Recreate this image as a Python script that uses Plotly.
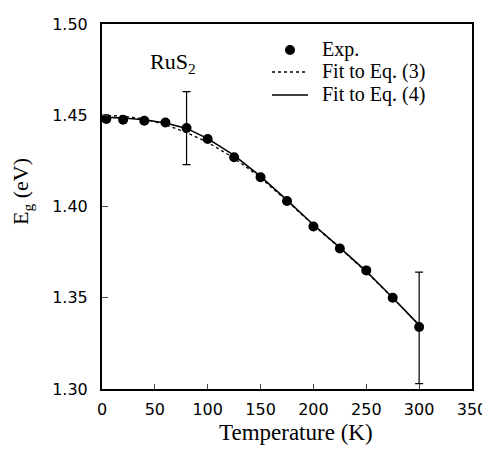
import plotly.graph_objects as go

# Experimental data
temp_exp = [4, 20, 40, 60, 80, 100, 125, 150, 175, 200, 225, 250, 275, 300]
eg_exp = [1.448, 1.4475, 1.447, 1.446, 1.443, 1.437, 1.427, 1.416, 1.403, 1.389, 1.377, 1.365, 1.350, 1.334]

# Error bars (only two points)
temp_err = [80, 300]
eg_err = [1.443, 1.334]
err_plus = [0.020, 0.030]
err_minus = [0.020, 0.031]

# Fits
temp_fit = [0, 20, 40, 60, 80, 100, 125, 150, 175, 200, 225, 250, 275, 300]
fit_eq3 = [1.450, 1.4495, 1.448, 1.4448, 1.4405, 1.4352, 1.4265, 1.4158, 1.4030, 1.3898, 1.3772, 1.3642, 1.3500, 1.3350]
fit_eq4 = [1.449, 1.4485, 1.4475, 1.4458, 1.4428, 1.4372, 1.4280, 1.4165, 1.4035, 1.3900, 1.3775, 1.3645, 1.3500, 1.3350]

x_ticks = [0, 50, 100, 150, 200, 250, 300, 350]
y_ticks = [1.30, 1.35, 1.40, 1.45, 1.50]

legend_labels = ["Exp.", "Fit to Eq. (3)", "Fit to Eq. (4)"]

serif = "Liberation Serif, Times New Roman, serif"
sans = "DejaVu Sans, sans-serif"

fig = go.Figure()

fig.add_trace(go.Scatter(
    x=temp_fit, y=fit_eq3, mode="lines", name=legend_labels[1], showlegend=False,
    line=dict(color="black", width=1.3, dash="dot"),
))
fig.add_trace(go.Scatter(
    x=temp_fit, y=fit_eq4, mode="lines", name=legend_labels[2], showlegend=False,
    line=dict(color="black", width=1.6),
))
fig.add_trace(go.Scatter(
    x=temp_err, y=eg_err, mode="markers", showlegend=False,
    marker=dict(color="black", size=1),
    error_y=dict(type="data", symmetric=False, array=err_plus, arrayminus=err_minus,
                 color="black", thickness=1.2, width=4),
))
fig.add_trace(go.Scatter(
    x=temp_exp, y=eg_exp, mode="markers", name=legend_labels[0], showlegend=False,
    marker=dict(color="black", size=10, symbol="circle"),
))

# Hand-drawn legend (paper coordinates)
leg_rows_y = [0.929, 0.8685, 0.8055]
leg_sample_x0, leg_sample_x1 = 0.4595, 0.5568
leg_text_x = 0.5892
fig.add_shape(type="circle", xref="paper", yref="paper", xsizemode="pixel", ysizemode="pixel",
              xanchor=(leg_sample_x0 + leg_sample_x1) / 2, yanchor=leg_rows_y[0],
              x0=-5, x1=5, y0=-5, y1=5, fillcolor="black", line=dict(color="black", width=0))
fig.add_shape(type="line", xref="paper", yref="paper", x0=leg_sample_x0, x1=leg_sample_x1,
              y0=leg_rows_y[1], y1=leg_rows_y[1], line=dict(color="black", width=1.3, dash="dot"))
fig.add_shape(type="line", xref="paper", yref="paper", x0=leg_sample_x0, x1=leg_sample_x1,
              y0=leg_rows_y[2], y1=leg_rows_y[2], line=dict(color="black", width=1.6))
for label, ly in zip(legend_labels, leg_rows_y):
    fig.add_annotation(x=leg_text_x, y=ly, xref="paper", yref="paper", text=label,
                       showarrow=False, xanchor="left", yanchor="middle",
                       font=dict(family=serif, size=20, color="black"))

fig.add_annotation(
    x=67, y=1.4786, xref="x", yref="y",
    text="RuS<sub>2</sub>", showarrow=False,
    font=dict(family=serif, size=22, color="black"),
)
fig.add_annotation(
    x=0.524, y=-0.118, xref="paper", yref="paper", xanchor="center", yanchor="middle",
    text="Temperature (K)", showarrow=False,
    font=dict(family=serif, size=23, color="black"),
)
fig.add_annotation(
    x=-0.216, y=0.54, xref="paper", yref="paper", xanchor="center", yanchor="middle",
    text="E<sub>g</sub> (eV)", showarrow=False, textangle=-90,
    font=dict(family=serif, size=22, color="black"),
)

fig.update_layout(
    width=482, height=445,
    margin=dict(l=94, r=18, t=16, b=64),
    paper_bgcolor="white", plot_bgcolor="white",
    showlegend=False,
    font=dict(family=sans, color="black"),
)

fig.update_xaxes(
    range=[0, 350], tickvals=x_ticks, ticks="inside", ticklen=5, tickwidth=1.2,
    showline=True, linewidth=2, linecolor="black", mirror=True,
    showgrid=False, zeroline=False, automargin=False, ticklabeloverflow="allow",
    ticklabelstandoff=5,
    tickfont=dict(family=sans, size=16, color="black"),
)
fig.update_yaxes(
    range=[1.30, 1.50], tickvals=y_ticks, tickformat=".2f", ticks="inside", ticklen=6, tickwidth=1.2,
    showline=True, linewidth=2, linecolor="black", mirror=True,
    showgrid=False, zeroline=False, automargin=False, ticklabeloverflow="allow",
    ticklabelstandoff=9,
    tickfont=dict(family=sans, size=16, color="black"),
)

fig.write_html("out.html")
